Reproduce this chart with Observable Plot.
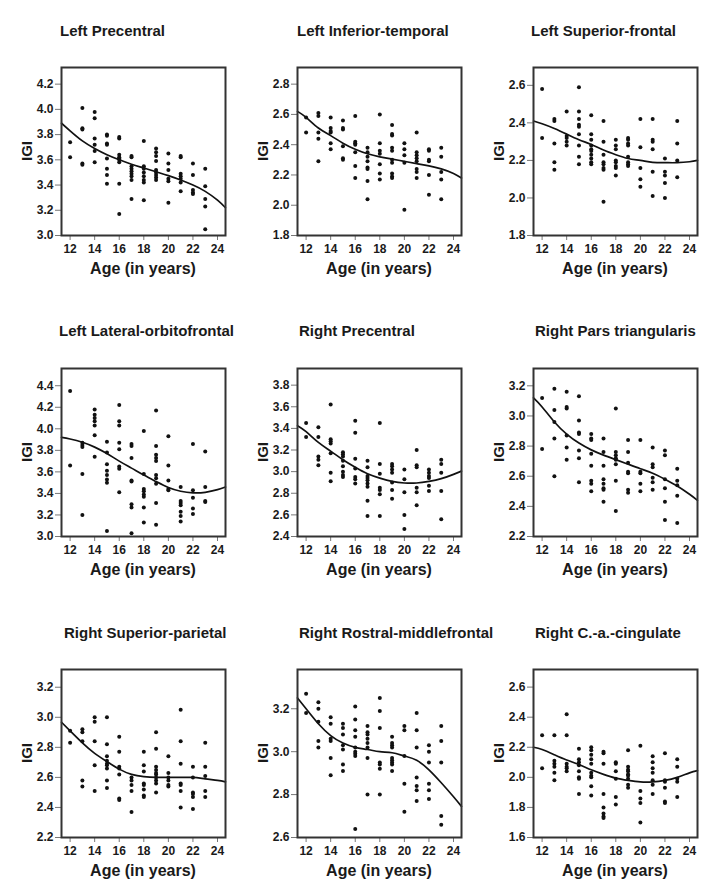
<!DOCTYPE html>
<html><head><meta charset="utf-8">
<script src="https://cdn.jsdelivr.net/npm/d3@7"></script>
<script src="https://cdn.jsdelivr.net/npm/@observablehq/plot@0.6"></script>
<style>
html,body{margin:0;padding:0;background:#fff;}
#root{position:relative;width:708px;height:881px;overflow:hidden;font-family:"Liberation Sans",Arial,Helvetica,sans-serif;font-weight:bold;color:#1a1a1a;}
.panel{position:absolute;width:236px;}
.title{position:absolute;font-size:15px;line-height:15px;white-space:nowrap;}
.xlab{position:absolute;font-size:16px;line-height:16px;white-space:nowrap;transform:translateX(-50%);}
.ylab{position:absolute;font-size:15px;line-height:15px;white-space:nowrap;transform:translate(-50%,-50%) rotate(-90deg);}
svg g[aria-label="x-axis tick"], svg g[aria-label="y-axis tick"]{stroke:#777;}
</style></head>
<body><div id="root"></div>
<script>
// ---- data ----
const ages = [12,13,14,15,16,17,18,19,20,21,22,23];
const xTicks = [12,14,16,18,20,22,24];
const fitAges = [11.3,12,13,14,15,16,17,18,19,20,21,22,23,24,24.65];

const titles = ["Left Precentral","Left Inferior-temporal","Left Superior-frontal",
  "Left Lateral-orbitofrontal","Right Precentral","Right Pars triangularis",
  "Right Superior-parietal","Right Rostral-middlefrontal","Right C.-a.-cingulate"];

const leftPrecentral = [
  [3.74,3.62],[4.01,3.85,3.84,3.57,3.56],[3.98,3.93,3.77,3.72,3.67,3.58],
  [3.80,3.79,3.73,3.72,3.61,3.53,3.48,3.41],[3.78,3.77,3.64,3.62,3.61,3.60,3.58,3.41,3.17],
  [3.63,3.62,3.55,3.53,3.51,3.49,3.47,3.44,3.29],[3.75,3.55,3.53,3.50,3.47,3.44,3.42,3.28],
  [3.69,3.66,3.63,3.59,3.52,3.50,3.48,3.46,3.44],[3.65,3.57,3.52,3.45,3.43,3.26],
  [3.63,3.62,3.49,3.47,3.45,3.42,3.35],[3.57,3.48,3.36,3.34,3.33],[3.53,3.39,3.29,3.23,3.05]];
const leftInferiorTemporal = [
  [2.58,2.48],[2.61,2.59,2.48,2.44,2.29],[2.58,2.51,2.49,2.48,2.41,2.37],
  [2.56,2.51,2.50,2.39,2.31,2.30],[2.59,2.42,2.41,2.40,2.35,2.26,2.18],
  [2.38,2.35,2.32,2.29,2.25,2.24,2.16,2.04],[2.60,2.41,2.36,2.34,2.27,2.21,2.17],
  [2.53,2.47,2.46,2.38,2.36,2.30,2.28,2.21,2.19,2.18],[2.41,2.37,2.33,2.28,1.97],
  [2.48,2.35,2.33,2.31,2.29,2.24,2.22,2.18],[2.37,2.36,2.30,2.29,2.20,2.07],[2.38,2.32,2.22,2.17,2.04]];
const leftSuperiorFrontal = [
  [2.58,2.32],[2.42,2.41,2.29,2.19,2.15],[2.46,2.33,2.32,2.30,2.28],
  [2.59,2.46,2.42,2.39,2.38,2.34,2.28,2.22,2.18],[2.44,2.34,2.31,2.28,2.26,2.25,2.23,2.21,2.19,2.18],
  [2.41,2.30,2.23,2.19,2.18,2.16,2.15,1.98],[2.31,2.28,2.26,2.20,2.19,2.17,2.16,2.12],
  [2.32,2.31,2.29,2.28,2.22,2.19,2.18,2.17],[2.42,2.27,2.16,2.10,2.06],
  [2.42,2.31,2.30,2.26,2.14,2.01],[2.21,2.14,2.12,2.08,2.00],[2.41,2.29,2.20,2.11]];
const leftLateralOrbitofrontal = [
  [4.35,3.66],[3.87,3.85,3.83,3.58,3.20],[4.18,4.13,4.10,4.07,4.03,3.94,3.74],
  [3.88,3.78,3.67,3.61,3.57,3.53,3.50,3.05],[4.22,4.07,4.03,3.87,3.81,3.65,3.63,3.41],
  [3.86,3.84,3.73,3.52,3.51,3.30,3.27,3.03],[3.98,3.58,3.44,3.42,3.39,3.37,3.27,3.13],
  [4.17,3.84,3.76,3.73,3.70,3.57,3.54,3.49,3.31,3.11],[3.93,3.66,3.52,3.44,3.43],
  [3.46,3.33,3.31,3.29,3.23,3.19,3.14],[3.86,3.43,3.36,3.26,3.21],[3.79,3.46,3.33,3.32]];
const rightPrecentral = [
  [3.45,3.32],[3.41,3.32,3.14,3.11,3.06],[3.62,3.30,3.28,3.26,3.17,2.99,2.91],
  [3.18,3.16,3.14,3.10,3.05,3.00,2.97,2.95],[3.47,3.36,3.12,3.03,2.95,2.93,2.89],
  [3.10,3.04,2.96,2.94,2.92,2.89,2.86,2.73,2.59],[3.45,3.07,2.98,2.85,2.83,2.79,2.59],
  [3.07,3.05,3.02,2.99,2.90,2.83,2.75],[3.02,2.93,2.81,2.60,2.47],
  [3.20,3.06,3.04,2.85,2.81,2.69],[3.02,2.99,2.96,2.94,2.87,2.82],[3.11,3.07,2.99,2.82,2.56]];
const rightParsTriangularis = [
  [3.12,2.78],[3.18,3.04,2.96,2.85,2.60],[3.16,3.06,3.05,2.87,2.79,2.71],
  [3.13,2.97,2.89,2.88,2.77,2.72,2.56],[2.88,2.85,2.84,2.75,2.67,2.57,2.55,2.50],
  [2.85,2.76,2.67,2.58,2.55,2.52,2.51,2.43],[3.05,2.76,2.74,2.72,2.71,2.68,2.57,2.37],
  [2.84,2.76,2.69,2.63,2.62,2.51,2.49],[2.84,2.63,2.62,2.55,2.50],
  [2.79,2.68,2.66,2.59,2.56,2.51],[2.77,2.74,2.58,2.52,2.43,2.31],[2.65,2.57,2.54,2.47,2.29]];
const rightSuperiorParietal = [
  [2.91,2.83],[2.92,2.90,2.84,2.58,2.54],[3.00,2.97,2.84,2.68,2.51],
  [3.00,2.82,2.74,2.71,2.69,2.68,2.66,2.58,2.53],[2.87,2.77,2.67,2.66,2.62,2.46,2.45],
  [2.60,2.58,2.55,2.51,2.37],[2.77,2.68,2.64,2.56,2.55,2.52,2.48,2.47],
  [2.90,2.79,2.67,2.65,2.63,2.62,2.60,2.58,2.56,2.50],[2.74,2.63,2.60,2.58,2.55,2.54],
  [3.05,2.84,2.69,2.56,2.55,2.51,2.40],[2.67,2.60,2.50,2.49,2.47,2.39],[2.83,2.67,2.61,2.51,2.47]];
const rightRostralMiddlefrontal = [
  [3.27,3.18],[3.23,3.20,3.14,3.05,3.02],[3.16,3.13,3.06,3.05,2.97,2.89],
  [3.13,3.11,3.08,3.03,3.01,2.94,2.91],[3.21,3.15,3.10,3.07,3.02,3.00,2.99,2.98,2.64],
  [3.12,3.09,3.08,3.06,3.04,3.02,2.97,2.80],[3.25,3.19,3.11,2.95,2.94,2.92,2.80],
  [3.07,3.04,3.03,3.02,2.97,2.96,2.95,2.94,2.91],[3.12,3.10,2.98,2.85,2.72],
  [3.18,3.10,3.02,2.88,2.84,2.82,2.77],[3.03,3.00,2.95,2.85,2.82,2.78],[3.12,3.05,2.95,2.70,2.66]];
const rightCACingulate = [
  [2.28,2.06],[2.28,2.11,2.09,2.07,2.03,1.98],[2.42,2.28,2.09,2.07,2.06,2.04],
  [2.19,2.12,2.10,2.08,2.04,2.00,1.99,1.89],[2.20,2.18,2.15,2.12,2.09,2.03,2.01,2.00,1.94,1.88],
  [2.17,2.16,2.09,1.89,1.80,1.76,1.74,1.73],[2.10,2.09,2.04,1.99,1.87,1.82],
  [2.18,2.07,2.05,2.04,2.02,2.01,1.99,1.95,1.93],[2.21,1.91,1.86,1.83,1.70],
  [2.14,2.10,2.06,2.03,1.98,1.95,1.89],[2.16,1.98,1.97,1.93,1.84,1.83],[2.12,2.07,1.99,1.97,1.87]];

// fitted curves read at fitAges
const fitLeftPrecentral = [3.89,3.83,3.75,3.69,3.64,3.60,3.565,3.535,3.505,3.475,3.44,3.40,3.35,3.28,3.22];
const fitLeftInferiorTemporal = [2.62,2.58,2.51,2.46,2.41,2.37,2.34,2.32,2.305,2.29,2.275,2.26,2.24,2.21,2.18];
const fitLeftSuperiorFrontal = [2.41,2.395,2.37,2.34,2.31,2.285,2.255,2.23,2.21,2.20,2.19,2.188,2.188,2.193,2.20];
const fitLeftLateralOrbitofrontal = [3.92,3.905,3.875,3.83,3.77,3.70,3.635,3.57,3.51,3.455,3.42,3.405,3.41,3.435,3.46];
const fitRightPrecentral = [3.425,3.37,3.27,3.19,3.11,3.04,2.98,2.94,2.91,2.895,2.895,2.91,2.935,2.975,3.005];
const fitRightParsTriangularis = [3.12,3.06,2.96,2.88,2.82,2.775,2.74,2.71,2.68,2.65,2.62,2.58,2.535,2.48,2.44];
const fitRightSuperiorParietal = [2.967,2.91,2.83,2.76,2.705,2.655,2.62,2.605,2.60,2.60,2.60,2.60,2.59,2.58,2.57];
const fitRightRostralMiddlefrontal = [3.25,3.20,3.13,3.075,3.04,3.02,3.01,3.00,2.995,2.98,2.96,2.915,2.855,2.79,2.745];
const fitRightCACingulate = [2.20,2.185,2.15,2.115,2.085,2.05,2.02,1.995,1.98,1.97,1.97,1.98,2.00,2.03,2.045];

// y axis tick labels and domain per panel
const yTicks = [
  [3.0,3.2,3.4,3.6,3.8,4.0,4.2],
  [1.8,2.0,2.2,2.4,2.6,2.8],
  [1.8,2.0,2.2,2.4,2.6],
  [3.0,3.2,3.4,3.6,3.8,4.0,4.2,4.4],
  [2.4,2.6,2.8,3.0,3.2,3.4,3.6,3.8],
  [2.2,2.4,2.6,2.8,3.0,3.2],
  [2.2,2.4,2.6,2.8,3.0,3.2],
  [2.6,2.8,3.0,3.2],
  [1.6,1.8,2.0,2.2,2.4,2.6]];
const yTop = [4.332,2.91,2.695,4.56,3.954,3.315,3.318,3.383,2.717];

const pointSets = [leftPrecentral,leftInferiorTemporal,leftSuperiorFrontal,leftLateralOrbitofrontal,
  rightPrecentral,rightParsTriangularis,rightSuperiorParietal,rightRostralMiddlefrontal,rightCACingulate];
const fitSets = [fitLeftPrecentral,fitLeftInferiorTemporal,fitLeftSuperiorFrontal,fitLeftLateralOrbitofrontal,
  fitRightPrecentral,fitRightParsTriangularis,fitRightSuperiorParietal,fitRightRostralMiddlefrontal,fitRightCACingulate];

// ---- layout ----
const colLeft = [0,236,472];
const rowTop = [0,301,602];
const titleLeft = [60,297,531,59,299,535,64,299,535];
const titleBaseline = [35.5,336,637.5];
const ML = 61, MT = 67, FW = 164, FH = 168;

const root = document.getElementById("root");
pointSets.forEach((groups, i) => {
  const col = i % 3, row = Math.floor(i / 3);
  const pts = [];
  groups.forEach((vals, k) => vals.forEach(v => pts.push({age: ages[k], igi: v})));
  const fit = fitAges.map((a, k) => ({age: a, igi: fitSets[i][k]}));
  const chart = Plot.plot({
    width: 236, height: 260,
    marginLeft: ML, marginRight: 236 - ML - FW, marginTop: MT, marginBottom: 260 - MT - FH,
    style: {fontFamily: '"Liberation Sans", Arial, sans-serif', fontSize: "12px", fontWeight: "bold", color: "#1a1a1a", background: "transparent", overflow: "visible"},
    x: {domain: [11.3, 24.65], ticks: xTicks, tickSize: 5, tickPadding: 4, label: null, tickFormat: d => String(d)},
    y: {domain: [yTicks[i][0], yTop[i]], ticks: yTicks[i], tickSize: 6, tickPadding: 2, label: null, tickFormat: d3.format(".1f")},
    marks: [
      Plot.dot(pts, {x: "age", y: "igi", r: 2, fill: "#111", stroke: "none"}),
      Plot.line(fit, {x: "age", y: "igi", curve: "natural", stroke: "#111", strokeWidth: 1.7}),
      Plot.frame({stroke: "#333", strokeWidth: 2})
    ]
  });
  const wrap = document.createElement("div");
  wrap.className = "panel";
  wrap.style.left = colLeft[col] + "px";
  wrap.style.top = rowTop[row] + "px";
  wrap.appendChild(chart);
  root.appendChild(wrap);

  const t = document.createElement("div");
  t.className = "title";
  t.textContent = titles[i];
  t.style.left = titleLeft[i] + "px";
  t.style.top = (titleBaseline[row] - 12.7) + "px";
  root.appendChild(t);

  const fl = colLeft[col] + ML, ft = rowTop[row] + MT;
  const xl = document.createElement("div");
  xl.className = "xlab";
  xl.textContent = "Age (in years)";
  xl.style.left = (fl + FW / 2) + "px";
  xl.style.top = (ft + FH + 39.5 - 13.5) + "px";
  root.appendChild(xl);

  const yl = document.createElement("div");
  yl.className = "ylab";
  yl.textContent = "IGI";
  yl.style.left = (fl - 35) + "px";
  yl.style.top = (ft + FH / 2) + "px";
  root.appendChild(yl);
});
</script>
</body></html>
